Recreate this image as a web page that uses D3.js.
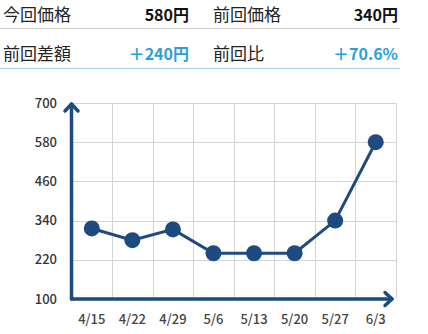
<!DOCTYPE html>
<html>
<head>
<meta charset="utf-8">
<script src="https://cdn.jsdelivr.net/npm/d3@7"></script>
<style>
  body { margin: 0; background: #fff; }
  svg { display: block; font-family: "Noto Sans CJK JP", "Noto Sans", sans-serif; }
</style>
</head>
<body>
<svg id="chart" width="428" height="334"></svg>
<script>
// data
var dates  = ['4/15', '4/22', '4/29', '5/6', '5/13', '5/20', '5/27', '6/3'];
var prices = [316, 280, 313, 240, 240, 240, 340, 580];
var yTicks = [100, 220, 340, 460, 580, 700];

var summaryLabels = ['今回価格', '前回価格', '前回差額', '前回比'];
var summaryValues = ['580円', '340円', '＋240円', '＋70.6%'];

var navy = '#1d4a80';
var svg = d3.select('#chart');

// header table
var cells = [
  {x: 3, xr: 189, y: 15, i: 0, color: '#111'},
  {x: 213, xr: 398, y: 15, i: 1, color: '#111'},
  {x: 3, xr: 189, y: 54, i: 2, color: '#2a9fde'},
  {x: 213, xr: 398, y: 54, i: 3, color: '#2a9fde'}
];
var head = svg.append('g');
cells.forEach(function(c) {
  head.append('text').attr('x', c.x).attr('y', c.y).attr('dy', '0.35em')
    .attr('font-size', 17).attr('fill', '#222').text(summaryLabels[c.i]);
  head.append('text').attr('x', c.xr).attr('y', c.y).attr('dy', '0.35em')
    .attr('text-anchor', 'end').attr('font-size', 16).attr('font-weight', 'bold')
    .attr('fill', c.color).text(summaryValues[c.i]);
});
head.append('line').attr('x1', 0).attr('x2', 400).attr('y1', 28.5).attr('y2', 28.5)
  .attr('stroke', '#cfcfcf').attr('stroke-width', 1.2);
head.append('line').attr('x1', 0).attr('x2', 400).attr('y1', 68.5).attr('y2', 68.5)
  .attr('stroke', '#a9cfee').attr('stroke-width', 1.2);

// scales
var x = d3.scaleBand().domain(dates).range([71.5, 396]).padding(0);
var y = d3.scaleLinear().domain([100, 700]).range([299, 103]);
var cx = function(d) { return x(d) + x.bandwidth() / 2; };

// grid
var grid = svg.append('g').attr('stroke', '#d4d4d4').attr('stroke-width', 1);
grid.selectAll('.h').data(yTicks.slice(1)).enter().append('line')
  .attr('x1', 71.5).attr('x2', 396)
  .attr('y1', function(d) { return Math.round(y(d)) + 0.5; })
  .attr('y2', function(d) { return Math.round(y(d)) + 0.5; });
grid.selectAll('.v').data(dates).enter().append('line')
  .attr('x1', function(d) { return Math.round(x(d) + x.bandwidth()) + 0.5; })
  .attr('x2', function(d) { return Math.round(x(d) + x.bandwidth()) + 0.5; })
  .attr('y1', y(700)).attr('y2', y(100));

// y labels
svg.append('g').selectAll('text').data(yTicks).enter().append('text')
  .attr('x', 57).attr('y', function(d) { return y(d); }).attr('dy', '0.35em')
  .attr('text-anchor', 'end').attr('font-size', 13).attr('font-weight', 500).attr('fill', '#333')
  .text(function(d) { return d; });

// x labels
svg.append('g').selectAll('text').data(dates).enter().append('text')
  .attr('x', cx).attr('y', 319).attr('dy', '0.35em')
  .attr('text-anchor', 'middle').attr('font-size', 13).attr('font-weight', 500).attr('fill', '#444')
  .text(function(d) { return d; });

// axes with arrows
var ax = svg.append('g').attr('stroke', navy).attr('stroke-width', 3.5)
  .attr('fill', 'none').attr('stroke-linecap', 'round').attr('stroke-linejoin', 'round');
ax.append('line').attr('x1', 71.5).attr('y1', 299).attr('x2', 71.5).attr('y2', 104);
ax.append('path').attr('d', 'M65,111 L71.5,104 L78,111');
ax.append('line').attr('x1', 71.5).attr('y1', 299).attr('x2', 392).attr('y2', 299);
ax.append('path').attr('d', 'M385,292.5 L392,299 L385,305.5');

// line + points
var line = d3.line().x(function(d, i) { return cx(dates[i]); }).y(function(d) { return y(d); });
svg.append('path').datum(prices).attr('d', line)
  .attr('fill', 'none').attr('stroke', navy).attr('stroke-width', 3);
svg.append('g').selectAll('circle').data(prices).enter().append('circle')
  .attr('cx', function(d, i) { return cx(dates[i]); })
  .attr('cy', function(d) { return y(d); })
  .attr('r', 8).attr('fill', navy);
</script>
</body>
</html>
